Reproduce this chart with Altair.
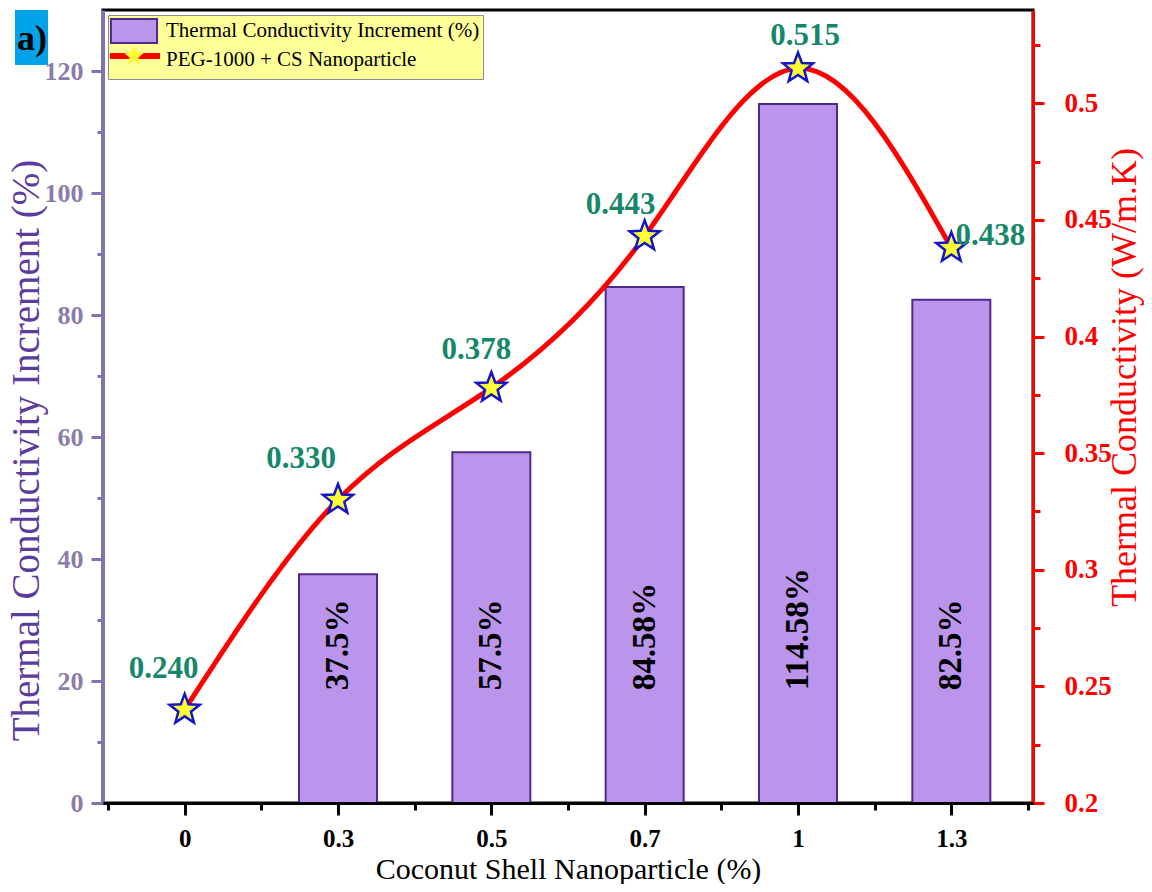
import altair as alt
import pandas as pd

# ---------------- data ----------------
categories = ["0", "0.3", "0.5", "0.7", "1", "1.3"]
positions = [0, 1, 2, 3, 4, 5]
increment = [None, 37.5, 57.5, 84.58, 114.58, 82.5]
conductivity = [0.240, 0.330, 0.378, 0.443, 0.515, 0.438]

series_bar = "Thermal Conductivity Increment (%)"
series_line = "PEG-1000 + CS Nanoparticle"

x_tick_values = [-0.5, 0, 0.5, 1, 1.5, 2, 2.5, 3, 3.5, 4, 4.5, 5, 5.5]
left_tick_values = [0, 10, 20, 30, 40, 50, 60, 70, 80, 90, 100, 110, 120]
right_tick_values = [0.2, 0.225, 0.25, 0.275, 0.3, 0.325, 0.35, 0.375,
                     0.4, 0.425, 0.45, 0.475, 0.5, 0.525]
panel_label = ["a)"]

# ---------------- style ----------------
SERIF = "Liberation Serif"
BAR_FILL = "#bb94ec"
BAR_EDGE = "#4b2a8a"
LEFT_AXIS = "#8470b4"
LEFT_LABEL = "#8c7caa"
LEFT_TITLE = "#5c3c9c"
RED = "#ff0000"
GREEN = "#17876a"
STAR_FILL = "#ffff33"
STAR_EDGE = "#1414c8"
STAR_PATH = ("M0,-1L0.247,-0.34L0.951,-0.309L0.399,0.13L0.588,0.809L0,0.42"
             "L-0.588,0.809L-0.399,0.13L-0.951,-0.309L-0.247,-0.34Z")
RECT_PATH = "M-1.92,-1H1.92V1H-1.92Z"

df = pd.DataFrame({
    "pos": positions,
    "cat": categories,
    "inc": increment,
    "tc": conductivity,
})
df["bar_text"] = ["" if v is None else f"{v:g}%" for v in increment]
df["tc_text"] = [f"{v:.3f}" for v in conductivity]
df["series"] = series_bar
df["curve_key"] = "curve"
df["marker_key"] = "marker"

cat_array = "[" + ",".join("'" + c + "'" for c in categories) + "]"
x_label_expr = f"datum.value % 1 === 0 ? {cat_array}[datum.value] : ''"

x_axis = alt.Axis(
    values=x_tick_values, labelExpr=x_label_expr,
    tickSize={"condition": {"test": "datum.value % 1 === 0", "value": 12}, "value": 7},
    tickWidth=3, tickColor="black", domainColor="black", domainWidth=3,
    labelFont=SERIF, labelFontSize=25, labelFontWeight="bold", labelColor="black",
    labelPadding=11, labelOverlap=False, labelFlush=False,
    title="Coconut Shell Nanoparticle (%)", titleFont=SERIF, titleFontSize=30,
    titleFontWeight="normal", titleColor="black", titlePadding=3,
    grid=False, zindex=1,
)
x_enc = alt.X("pos:Q", scale=alt.Scale(domain=[-0.5, 5.5], nice=False, zero=False), axis=x_axis)

left_scale = alt.Scale(domain=[0, 130], nice=False)
left_axis = alt.Axis(
    orient="left", values=left_tick_values,
    labelExpr="datum.value % 20 === 0 ? format(datum.value, 'd') : ''",
    tickSize={"condition": {"test": "datum.value % 20 === 0", "value": 12}, "value": 6},
    tickWidth=3, tickColor=LEFT_AXIS, domainColor=LEFT_AXIS, domainWidth=3,
    labelFont=SERIF, labelFontSize=26, labelFontWeight="bold", labelColor=LEFT_LABEL,
    labelPadding=8, labelOverlap=False,
    title=series_bar, titleFont=SERIF, titleFontSize=39, titleFontWeight="normal",
    titleColor=LEFT_TITLE, titlePadding=-2, titleY=440, grid=False,
)

right_scale = alt.Scale(domain=[0.2, 0.54], nice=False, zero=False)
right_axis = alt.Axis(
    orient="right", values=right_tick_values,
    labelExpr="round(datum.value * 1000) % 50 === 0 ? format(datum.value, '~g') : ''",
    tickSize={"condition": {"test": "round(datum.value * 1000) % 50 === 0", "value": 11}, "value": 7},
    tickWidth=3, tickColor=RED, domainColor=RED, domainWidth=3,
    labelFont=SERIF, labelFontSize=27, labelFontWeight="bold", labelColor=RED,
    labelPadding=20, labelOverlap=False,
    title="Thermal Conductivity (W/m.K)", titleFont=SERIF, titleFontSize=36,
    titleFontWeight="normal", titleColor=RED, titleAngle=270, titleBaseline="top",
    titleX=74, titleY=367, grid=False,
)

legend_main = alt.Legend(
    orient="none", legendX=5, legendY=5, title=None,
    fillColor="#ffff99", strokeColor="#8c8c8c", padding=3,
    symbolType=RECT_PATH, symbolSize=576, symbolStrokeWidth=2, symbolOffset=10,
    labelFont=SERIF, labelFontSize=21, labelColor="black", labelOffset=19,
    labelLimit=1000, rowPadding=-6, zindex=1,
)
legend_line = alt.Legend(
    orient="none", legendX=4, legendY=18, title=None, padding=0,
    symbolType="stroke", symbolSize=2500, symbolStrokeWidth=6,
    symbolStrokeColor=RED, labelExpr="''", labelOpacity=0, labelFontSize=20, zindex=2,
)
legend_star = alt.Legend(
    orient="none", legendX=19, legendY=34, title=None, padding=0,
    symbolType=STAR_PATH, symbolSize=480, symbolStrokeWidth=2,
    symbolFillColor=STAR_FILL, symbolStrokeColor=STAR_EDGE,
    labelExpr="''", labelOpacity=0, labelFontSize=20, zindex=3,
)

# ---------------- bar group (left axis) ----------------
bars = alt.Chart(df).transform_filter("isValid(datum.inc)").mark_bar(
    size=78, strokeWidth=2, opacity=1
).encode(
    x=x_enc,
    y=alt.Y("inc:Q", scale=left_scale, axis=left_axis),
    fill=alt.Fill("series:N", scale=alt.Scale(domain=[series_bar, series_line],
                                              range=[BAR_FILL, "transparent"]),
                  legend=legend_main),
    stroke=alt.Stroke("series:N", scale=alt.Scale(domain=[series_bar, series_line],
                                                  range=[BAR_EDGE, "transparent"]),
                      legend=legend_main),
)

bar_text = alt.Chart(df).transform_filter("isValid(datum.inc)").mark_text(
    angle=270, align="left", baseline="middle", font=SERIF, fontSize=33,
    fontWeight="bold", color="black"
).encode(
    x=x_enc,
    y=alt.YDatum(18.5, type="quantitative", scale=left_scale, axis=left_axis),
    text="bar_text:N",
)

bar_group = alt.layer(bars, bar_text)

# ---------------- line group (right axis) ----------------
y_tc = alt.Y("tc:Q", scale=right_scale, axis=right_axis)

curve = alt.Chart(df).mark_line(interpolate="natural", strokeWidth=5).encode(
    x=x_enc, y=y_tc,
    color=alt.Color("curve_key:N", scale=alt.Scale(domain=["curve"], range=[RED]),
                    legend=legend_line),
)

stars = alt.Chart(df).mark_point(
    filled=True, fill=STAR_FILL, stroke=STAR_EDGE, strokeWidth=2.5, size=1000, opacity=1
).encode(
    x=x_enc, y=y_tc,
    shape=alt.Shape("marker_key:N", scale=alt.Scale(domain=["marker"], range=[STAR_PATH]),
                    legend=legend_star),
)

label_offsets = {0: (-21, -41), 1: (-37, -41), 2: (-15, -38),
                 3: (-24, -31), 4: (7, -32), 5: (39, -12)}
value_labels = [
    alt.Chart(df).transform_filter(f"datum.pos === {p}").mark_text(
        dx=dx, dy=dy, font=SERIF, fontSize=31, fontWeight="bold", color=GREEN,
        align="center", baseline="middle"
    ).encode(x=x_enc, y=y_tc, text="tc_text:N")
    for p, (dx, dy) in label_offsets.items()
]

line_group = alt.layer(curve, stars, *value_labels)

# ---------------- panel tag ----------------
panel_df = pd.DataFrame({"panel": panel_label})
panel_box = alt.Chart(panel_df).mark_rect(color="#00a2e8").encode(
    x=alt.value(-88), x2=alt.value(-55), y=alt.value(0), y2=alt.value(55)
)
panel_text = alt.Chart(panel_df).mark_text(
    font=SERIF, fontSize=36, fontWeight="bold", color="black",
    align="center", baseline="middle"
).encode(x=alt.value(-71), y=alt.value(29), text="panel:N")

chart = alt.layer(bar_group, line_group, panel_box, panel_text).resolve_scale(
    y="independent"
).properties(
    width=930, height=793,
    autosize=alt.AutoSizeParams(type="none"),
    padding={"left": 95, "top": 2, "right": 111, "bottom": 81},
).configure(font=SERIF).configure_view(stroke="black", strokeWidth=3)

chart.save("out.html", embed_options={"renderer": "svg", "actions": False})
